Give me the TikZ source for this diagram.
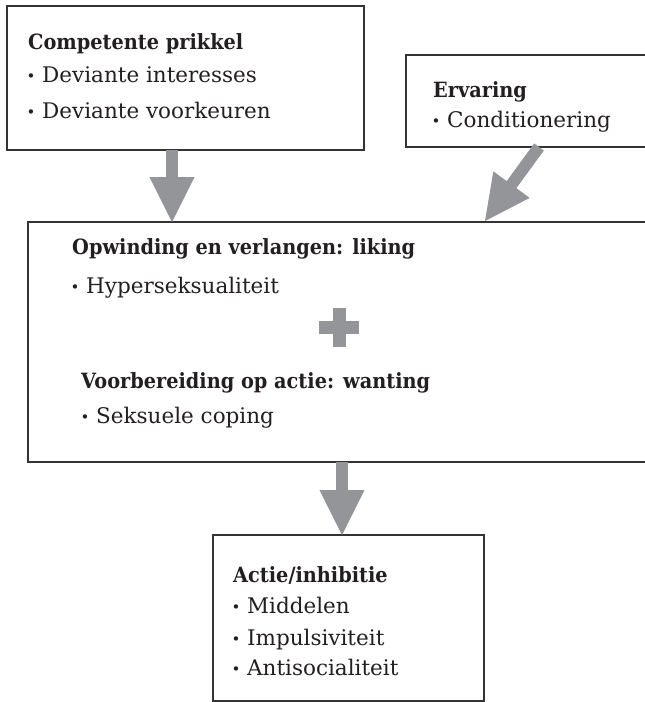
\documentclass[tikz,border=0pt]{standalone}
\usepackage{fontspec}
\setmainfont{DejaVu Serif}[BoldFeatures={FakeStretch=0.92}]
\usetikzlibrary{calc}
\definecolor{arr}{HTML}{939598}
\definecolor{frame}{HTML}{333333}
\definecolor{ink}{HTML}{231F20}
\newcommand\bul{\makebox[14pt][l]{\hspace{-1.5pt}\raisebox{0.5pt}{\fontsize{15}{15}\selectfont •}}}
\newcommand\fatarrow[2]{%
  \path ($(#2)!45pt!(#1)$) coordinate (hb);
  \draw[arr,line width=12pt] (#1) -- ($(#2)!44pt!(#1)$);
  \fill[arr] (#2) -- ($(hb)!22.5pt!90:(#2)$) -- ($(hb)!22.5pt!-90:(#2)$) -- cycle;}
\begin{document}
\begin{tikzpicture}[x=1pt,y=-1pt,
  box/.style={draw=frame,line width=1.6pt,anchor=north west,inner sep=0pt,outer sep=0pt},
  txt/.style={anchor=base west,inner sep=0pt,text=ink,font=\fontsize{21.5}{24}\selectfont},
  hd/.style={anchor=base west,inner sep=0pt,text=ink,font=\fontsize{21}{24}\selectfont\bfseries}]
\useasboundingbox (0,0) rectangle (645,702);
\fill[white] (0,0) rectangle (645,702);

% boxes
\node[box,minimum width=357pt,minimum height=144pt] (cp) at (7,6) {};
\node[box,minimum width=260pt,minimum height=92pt] (erv) at (406,55) {};
\node[box,minimum width=640pt,minimum height=240pt] (big) at (28,222) {};
\node[box,minimum width=271pt,minimum height=166pt] (act) at (213,535) {};

% connector end points on the box edges
\coordinate (a1s) at (172,150);
\coordinate (a1e) at (172,222);
\coordinate (a2s) at (539,147);
\coordinate (a2e) at (485,221);
\coordinate (a3s) at (342,462);
\coordinate (a3e) at (342,535);

\fatarrow{a1s}{a1e}
\fatarrow{a2s}{a2e}
\fatarrow{a3s}{a3e}

% plus sign
\fill[arr] (332.5,308) rectangle (345.5,347);
\fill[arr] (319,321) rectangle (359,334);

% texts
\node[hd] (t1) at (28,49) {Competente prikkel};
\node[txt] (t2) at (28,82) {\bul Deviante interesses};
\node[txt] (t3) at (28,118) {\bul Deviante voorkeuren};

\node[hd] (e1) at (433,97) {Ervaring};
\node[txt] (e2) at (433,127) {\bul Conditionering};

\node[hd] (b1) at (72,254) {Opwinding en verlangen: liking};
\node[txt] (b2) at (72,293) {\bul Hyperseksualiteit};
\node[hd] (b3) at (81,388) {Voorbereiding op actie: wanting};
\node[txt] (b4) at (82,423) {\bul Seksuele coping};

\node[hd] (c1) at (233,582) {Actie/inhibitie};
\node[txt] (c2) at (233,613) {\bul Middelen};
\node[txt] (c3) at (233,645) {\bul Impulsiviteit};
\node[txt] (c4) at (233,675) {\bul Antisocialiteit};
\end{tikzpicture}
\end{document}
